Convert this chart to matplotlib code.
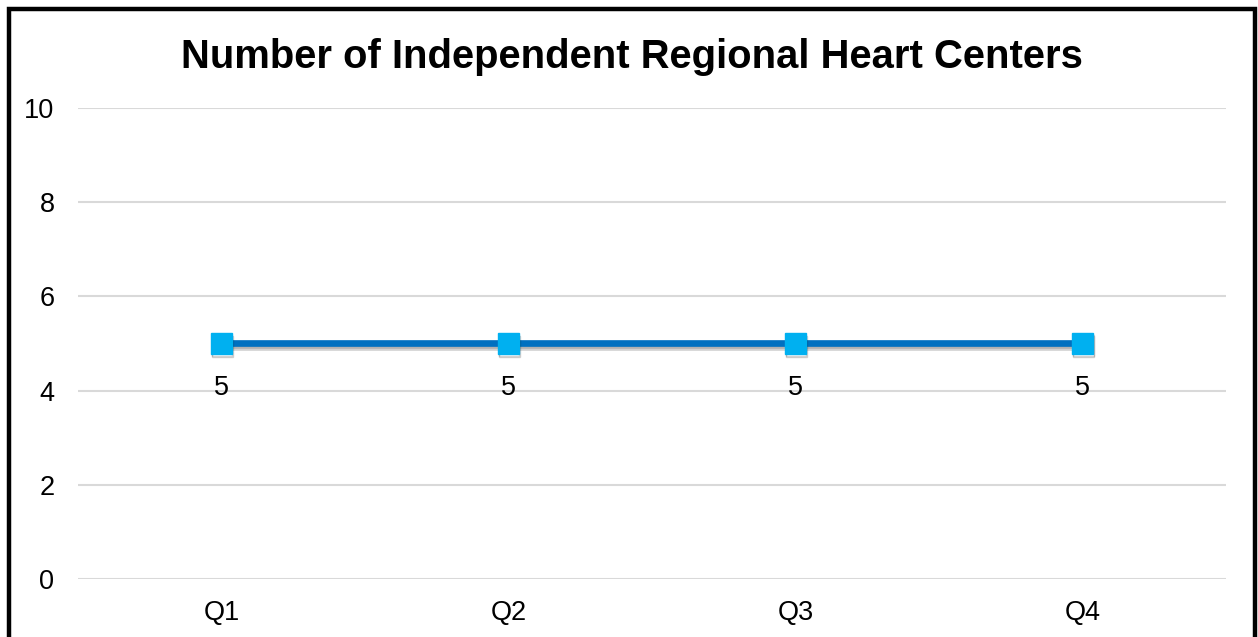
import matplotlib.pyplot as plt
import matplotlib.patheffects as pe
from matplotlib.patches import Rectangle

plt.rcParams['font.family'] = ['Liberation Sans', 'DejaVu Sans']

quarters = ['Q1', 'Q2', 'Q3', 'Q4']
centers = [5, 5, 5, 5]
yticks = [0, 2, 4, 6, 8, 10]

fig = plt.figure(figsize=(12.58, 6.37), dpi=100)
ax = fig.add_axes([0.062, 0.0911, 0.9126, 0.7394])

x = list(range(len(quarters)))
ax.plot(x, centers, color='#0070C0', linewidth=4.8, marker='s', markersize=15,
        markerfacecolor='#00B0F0', markeredgecolor='#00B0F0', zorder=3,
        path_effects=[pe.SimpleLineShadow(offset=(0.8, -2.2), alpha=0.18, shadow_color='black'),
                      pe.SimpleLineShadow(offset=(0.4, -1.2), alpha=0.15, shadow_color='black'),
                      pe.Normal()])

for xi, v in zip(x, centers):
    ax.annotate(str(v), (xi, v), xytext=(0, -32), textcoords='offset points',
                ha='center', va='center', fontsize=19.5, color='black')

ax.set_xlim(-0.5, len(quarters) - 0.5)
ax.set_ylim(0, 10)
ax.set_yticks(yticks)
ax.set_xticks(x)
ax.set_xticklabels(quarters)
ax.tick_params(axis='both', length=0, labelsize=19.5, labelcolor='#000000')
ax.tick_params(axis='y', pad=17)
ax.tick_params(axis='x', pad=15)
ax.grid(axis='y', color='#D9D9D9', linewidth=1.5)
ax.set_axisbelow(True)
for s in ax.spines.values():
    s.set_visible(False)

fig.text(0.5025, 0.91, 'Number of Independent Regional Heart Centers',
         ha='center', va='center', fontsize=28.8, fontweight='bold')

# border round the chart (bottom edge falls off the picture)
border = Rectangle((0.0072, -0.05), 0.9905, 1.0365, transform=fig.transFigure,
                   fill=False, edgecolor='black', linewidth=3.2, clip_on=False)
fig.patches.append(border)

fig.savefig('out.png', dpi=100)
